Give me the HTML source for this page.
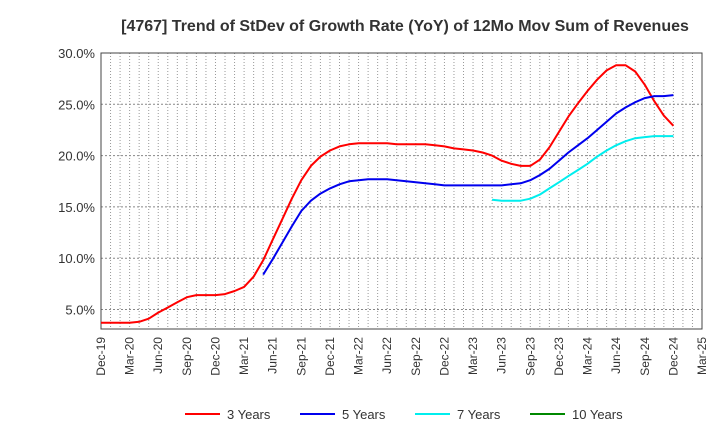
<!DOCTYPE html>
<html><head><meta charset="utf-8"><style>
body{margin:0;background:#fff;font-family:"Liberation Sans",sans-serif}
svg text{font-family:"Liberation Sans",sans-serif}
</style></head><body>
<svg id="chart" width="720" height="440" xmlns="http://www.w3.org/2000/svg">
<text x="405" y="31" text-anchor="middle" font-size="16" font-weight="bold" fill="#333">[4767]  Trend of StDev of Growth Rate (YoY) of 12Mo Mov Sum of Revenues</text>
<g id="grid"></g>
<g id="axes"></g>
<g id="series"></g>
<g id="legend"></g>
</svg>
<script>
const xTickLabels=["Dec-19","Mar-20","Jun-20","Sep-20","Dec-20","Mar-21","Jun-21","Sep-21","Dec-21","Mar-22","Jun-22","Sep-22","Dec-22","Mar-23","Jun-23","Sep-23","Dec-23","Mar-24","Jun-24","Sep-24","Dec-24","Mar-25"];
const yTicks=[5,10,15,20,25,30];
const red3=[3.7,3.7,3.7,3.7,3.8,4.1,4.7,5.2,5.7,6.2,6.4,6.4,6.4,6.5,6.8,7.2,8.2,9.8,11.8,13.8,15.8,17.6,19.0,19.9,20.5,20.9,21.1,21.2,21.2,21.2,21.2,21.1,21.1,21.1,21.1,21.0,20.9,20.7,20.6,20.5,20.3,20.0,19.5,19.2,19.0,19.0,19.6,20.8,22.3,23.8,25.1,26.3,27.4,28.3,28.8,28.8,28.2,26.9,25.3,23.9,22.9];
const blue5Start=17;
const blue5=[8.4,9.9,11.5,13.1,14.6,15.6,16.3,16.8,17.2,17.5,17.6,17.7,17.7,17.7,17.6,17.5,17.4,17.3,17.2,17.1,17.1,17.1,17.1,17.1,17.1,17.1,17.2,17.3,17.6,18.1,18.7,19.5,20.3,21.0,21.7,22.5,23.3,24.1,24.7,25.2,25.6,25.8,25.8,25.9];
const cyan7Start=41;
const cyan7=[15.7,15.6,15.6,15.6,15.8,16.2,16.8,17.4,18.0,18.6,19.2,19.9,20.5,21.0,21.4,21.7,21.8,21.9,21.9,21.9];
const green10=[];
const L=101,R=702,T=53,B=329,yMin=3.1,yMax=30,nMonths=63;
const xs=m=>L+(R-L)*m/nMonths;
const ys=v=>B-(B-T)*(v-yMin)/(yMax-yMin);
const NS="http://www.w3.org/2000/svg";
function mk(tag,attrs,parent,txt){const e=document.createElementNS(NS,tag);for(const k in attrs)e.setAttribute(k,attrs[k]);if(txt!==undefined)e.textContent=txt;parent.appendChild(e);return e;}
const grid=document.getElementById('grid'),axes=document.getElementById('axes'),series=document.getElementById('series'),legend=document.getElementById('legend');
for(let m=1;m<nMonths;m++){
 const g=mk('line',{x1:xs(m),x2:xs(m),y1:T,y2:B,stroke:'#999','stroke-width':1,'stroke-dasharray':'1,2'},grid);
 
 
}
yTicks.forEach(v=>{
 const g=mk('line',{x1:L,x2:R,y1:ys(v),y2:ys(v),stroke:'#888','stroke-width':1,'stroke-dasharray':'2,2'},grid);
 
 
 const t=mk('text',{x:L-6,y:ys(v)+5,'text-anchor':'end','font-size':13,fill:'#333'},axes,v.toFixed(1)+'%');
 
 
});
const fr=mk('rect',{x:L,y:T,width:R-L,height:B-T,fill:'none',stroke:'#444','stroke-width':1},axes);


xTickLabels.forEach((lab,i)=>{
 const x=xs(i*3),y=B+8;
 const t=mk('text',{x:x,y:y,'text-anchor':'end','font-size':12,fill:'#333',transform:`rotate(-90 ${x} ${y})`,dy:'4'},axes,lab);
 
 
});
function line(data,start,color,name){
 if(!data.length)return;
 const pts=data.map((v,i)=>xs(start+i).toFixed(1)+','+ys(v).toFixed(1)).join(' ');
 const p=mk('polyline',{points:pts,fill:'none',stroke:color,'stroke-width':2,'stroke-linejoin':'round'},series);
 
 
}
line(red3,0,'#ff0000','line-3-years');
line(blue5,blue5Start,'#0000ee','line-5-years');
line(cyan7,cyan7Start,'#00eeee','line-7-years');
line(green10,0,'#008800','line-10-years');
[['3 Years','#ff0000',185],['5 Years','#0000ee',300],['7 Years','#00eeee',415],['10 Years','#008800',530]].forEach(([lab,c,x])=>{
 const g=mk('g',{},legend);
 
 
 mk('line',{x1:x,x2:x+35,y1:414,y2:414,stroke:c,'stroke-width':2},g);
 mk('text',{x:x+42,y:419,'font-size':13,fill:'#333'},g,lab);
});
</script>
</body></html>
